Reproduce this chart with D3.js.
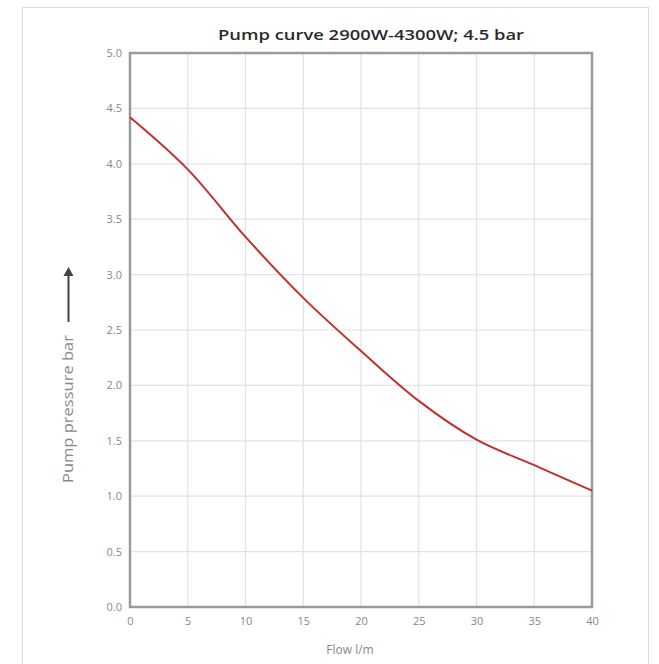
<!DOCTYPE html>
<html>
<head>
<meta charset="utf-8">
<script src="https://cdn.jsdelivr.net/npm/d3@7"></script>
<style>
  body { margin: 0; background: #fff; }
  svg { display: block; font-family: "Open Sans", sans-serif; }
</style>
</head>
<body>
<script>
// values
const flow = [0, 5, 10, 15, 20, 25, 30, 35, 40];
const pressure = [4.42, 3.95, 3.34, 2.79, 2.31, 1.86, 1.51, 1.28, 1.05];
const xTicks = [0, 5, 10, 15, 20, 25, 30, 35, 40];
const yTicks = [0, 0.5, 1, 1.5, 2, 2.5, 3, 3.5, 4, 4.5, 5];

const title = "Pump curve 2900W-4300W; 4.5 bar";
const xTitle = "Flow l/m";
const yTitle = "Pump pressure bar";

let width = 659, height = 664;
let plotL = 130, plotR = 592, plotT = 53, plotB = 607;

const svg = d3.select("body").append("svg")
    .attr("width", width)
    .attr("height", height);

// outer frame
svg.append("rect")
    .attr("x", 22.5).attr("y", 7.5)
    .attr("width", 626).attr("height", 670)
    .attr("fill", "none")
    .attr("stroke", "#dcdcdc");

const x = d3.scaleLinear().domain([0, 40]).range([plotL, plotR]);
const y = d3.scaleLinear().domain([0, 5]).range([plotB, plotT]);

// grid
svg.append("g")
    .selectAll("line")
    .data(xTicks.slice(1, -1))
    .join("line")
    .attr("x1", d => x(d)).attr("x2", d => x(d))
    .attr("y1", plotT).attr("y2", plotB)
    .attr("stroke", "#e2e2e2").attr("stroke-width", 1.2);

svg.append("g")
    .selectAll("line")
    .data(yTicks.slice(1, -1))
    .join("line")
    .attr("x1", plotL).attr("x2", plotR)
    .attr("y1", d => y(d)).attr("y2", d => y(d))
    .attr("stroke", "#e2e2e2").attr("stroke-width", 1.2);

// axes (labels only, no tick marks)
const xAxis = svg.append("g")
    .attr("transform", `translate(0,${plotB})`)
    .call(d3.axisBottom(x).tickValues(xTicks).tickSize(0).tickPadding(10).tickFormat(d3.format("d")));
const yAxis = svg.append("g")
    .attr("transform", `translate(${plotL},0)`)
    .call(d3.axisLeft(y).tickValues(yTicks).tickSize(0).tickPadding(8).tickFormat(d3.format(".1f")));

[xAxis, yAxis].forEach(g => {
    g.select(".domain").remove();
    g.selectAll("text")
        .attr("fill", "#888")
        .style("font-size", "11px")
        .style("font-family", "'Open Sans', sans-serif");
});

// plot border
svg.append("rect")
    .attr("x", plotL).attr("y", plotT)
    .attr("width", plotR - plotL).attr("height", plotB - plotT)
    .attr("fill", "none")
    .attr("stroke", "#9a9a9a")
    .attr("stroke-width", 2.5);

// curve
const pts = flow.map((f, i) => [f, pressure[i]]);
const line = d3.line()
    .x(d => x(d[0]))
    .y(d => y(d[1]))
    .curve(d3.curveCatmullRom);

svg.append("path")
    .datum(pts)
    .attr("d", line)
    .attr("fill", "none")
    .attr("stroke", "#c0302e")
    .attr("stroke-width", 2)
    .attr("stroke-linejoin", "round");

// titles
svg.append("text")
    .attr("x", 371).attr("y", 40)
    .attr("text-anchor", "middle")
    .attr("fill", "#2a2a2a")
    .attr("textLength", 306)
    .attr("lengthAdjust", "spacingAndGlyphs")
    .style("font-size", "15px")
    .style("font-weight", 600)
    .text(title);

svg.append("text")
    .attr("x", 350).attr("y", 654)
    .attr("text-anchor", "middle")
    .attr("fill", "#888")
    .style("font-size", "12px")
    .text(xTitle);

svg.append("text")
    .attr("transform", "translate(73,409) rotate(-90)")
    .attr("text-anchor", "middle")
    .attr("fill", "#888")
    .attr("textLength", 148)
    .attr("lengthAdjust", "spacingAndGlyphs")
    .style("font-size", "14.5px")
    .text(yTitle);

// arrow next to the y title
svg.append("line")
    .attr("x1", 68.5).attr("x2", 68.5)
    .attr("y1", 322).attr("y2", 274)
    .attr("stroke", "#444").attr("stroke-width", 2);
svg.append("path")
    .attr("d", "M63.5,276 L68.5,267 L73.5,276 Z")
    .attr("fill", "#444");
</script>
</body>
</html>
